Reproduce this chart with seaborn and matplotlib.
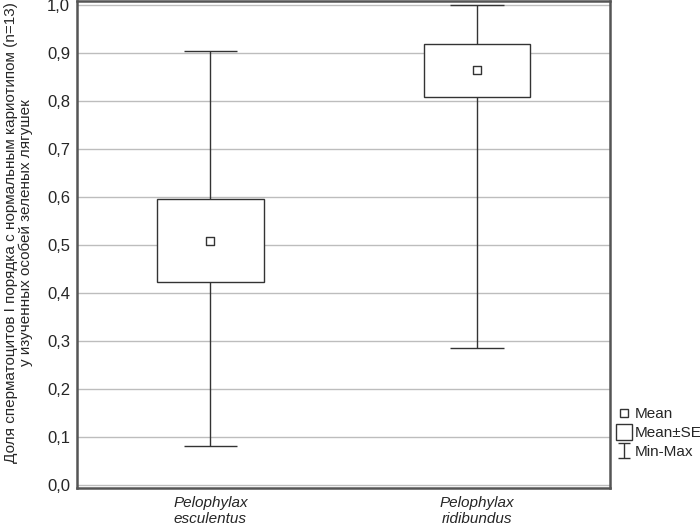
import numpy as np
import matplotlib
matplotlib.use("Agg")
import matplotlib.pyplot as plt
import seaborn as sns
from matplotlib.lines import Line2D

# Данные (оценены по рисунку)
species = ["Pelophylax\nesculentus", "Pelophylax\nridibundus"]
mean_vals = [0.508, 0.865]
se_low = [0.422, 0.808]
se_high = [0.595, 0.918]
min_vals = [0.081, 0.286]
max_vals = [0.904, 0.999]
yticks = [0.0, 0.1, 0.2, 0.3, 0.4, 0.5, 0.6, 0.7, 0.8, 0.9, 1.0]

sns.set_style("whitegrid")
plt.rcParams['font.family'] = ['Liberation Sans', 'DejaVu Sans']

fig = plt.figure(figsize=(7, 5.28), dpi=100)
ax = fig.add_axes([0.11, 0.076, 0.762, 0.922])

x = np.arange(len(species))
edge = "#333333"

# усы min-max
ax.vlines(x, min_vals, max_vals, color=edge, lw=1, zorder=2)
ax.hlines(min_vals, x - 0.1, x + 0.1, color=edge, lw=1, zorder=2)
ax.hlines(max_vals, x - 0.1, x + 0.1, color=edge, lw=1, zorder=2)

# прямоугольники Mean±SE
heights = np.array(se_high) - np.array(se_low)
ax.bar(x, heights, bottom=se_low, width=0.4, color="white", edgecolor=edge,
       linewidth=1, zorder=3)

# средние
sns.scatterplot(x=x, y=mean_vals, marker="s", s=40, facecolor="white",
                edgecolor=edge, linewidth=1, zorder=4, ax=ax)

ax.set_xlim(-0.5, 1.5)
ax.set_ylim(-0.006, 1.008)
ax.set_xticks(x)
ax.set_xticklabels(species, style="italic", fontsize=11)
ax.set_yticks(yticks)
ax.set_yticklabels([f"{v:.1f}".replace(".", ",") for v in yticks], fontsize=12)
ax.grid(axis="y", color="#bdbdbd", lw=1)
ax.grid(axis="x", visible=False)
for s in ax.spines.values():
    s.set_color("#555555")
    s.set_linewidth(1.8)
ax.tick_params(axis="y", direction="out", length=3, width=1, color="#555555", pad=2)
ax.tick_params(axis="x", direction="in", length=3, width=1, color="#555555", pad=6)

ax.set_ylabel("Доля сперматоцитов I порядка с нормальным кариотипом (n=13)\n"
              "у изученных особей зеленых лягушек", fontsize=11,
              linespacing=1.05)
ax.yaxis.set_label_coords(-0.083, 0.524)

# легенда
h_mean = Line2D([], [], marker="s", ls="none", markersize=6, markerfacecolor="white",
                markeredgecolor=edge, markeredgewidth=1)
h_se = Line2D([], [], marker="s", ls="none", markersize=12, markerfacecolor="white",
              markeredgecolor=edge, markeredgewidth=1)
h_mm = ax.errorbar([np.nan], [np.nan], yerr=[[0.1]], fmt="none", ecolor=edge,
                   elinewidth=1, capsize=4)
fig.legend([h_mean, h_se, h_mm], ["Mean", "Mean±SE", "Min-Max"],
           loc="center left", bbox_to_anchor=(0.868, 0.18), frameon=False,
           fontsize=11, handlelength=0.8, handletextpad=0.25, labelspacing=0.3,
           borderpad=0.2)

fig.savefig("out.png", dpi=100)
